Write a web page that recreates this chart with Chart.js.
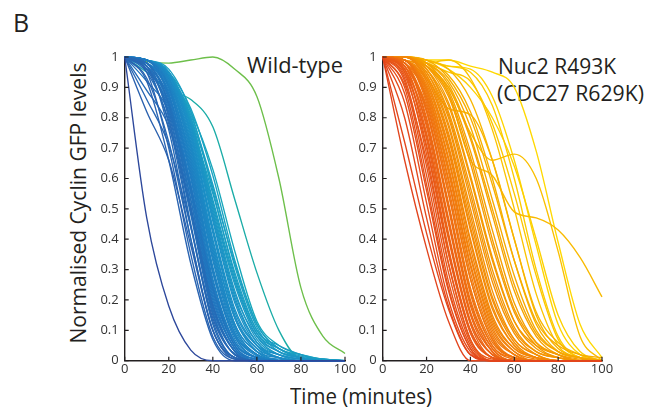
<!DOCTYPE html>
<html>
<head>
<meta charset="utf-8">
<script src="https://cdn.jsdelivr.net/npm/chart.js@4.4.1/dist/chart.umd.min.js"></script>
<style>
html,body{margin:0;padding:0;background:#fff;}
body{width:660px;height:416px;position:relative;overflow:hidden;font-family:"Open Sans",sans-serif;color:#231f20;}
.panel{position:absolute;}
.txt{position:absolute;white-space:nowrap;line-height:1;transform-origin:0 0;}
</style>
</head>
<body>
<div class="txt" style="left:13px;top:10px;font-size:25px;">B</div>
<div class="txt fit" data-w="96" style="left:247px;top:53px;font-size:22px;">Wild-type</div>
<div class="txt fit" data-w="118" style="left:498px;top:54px;font-size:22px;">Nuc2 R493K</div>
<div class="txt fit" data-w="147" style="left:497px;top:81px;font-size:22px;">(CDC27 R629K)</div>
<div class="txt fit" data-w="142" style="left:290px;top:384px;font-size:22px;">Time (minutes)</div>
<div id="ytitle" class="txt" style="font-size:22px;">Normalised Cyclin GFP levels</div>

<div class="panel" style="left:60px;top:40px;width:300px;height:345px;"><canvas id="wt"></canvas></div>
<div class="panel" style="left:350px;top:40px;width:270px;height:345px;"><canvas id="mut"></canvas></div>

<script>
const timePoints = [0, 10, 20, 30, 40, 50, 60, 70, 80, 90, 100];
const xTicks = [0, 20, 40, 60, 80, 100];
const yTicks = [0, 0.1, 0.2, 0.3, 0.4, 0.5, 0.6, 0.7, 0.8, 0.9, 1];
const yTickLabels = ["0", "0.1", "0.2", "0.3", "0.4", "0.5", "0.6", "0.7", "0.8", "0.9", "1"];

// Wild-type cells (ordered early -> late degradation)
const wildType = [
  [1,0.47,0.18,0.035,0,0,0,0,0,0,0],
  [1,0.82,0.66,0.38,0.10,0.005,0,0,0,0,0],
  [1,0.92,0.66,0.32,0.07,0,0,0,0,0,0],
  [1,0.95,0.70,0.35,0.08,0.005,0,0,0,0,0],
  [1,0.86,0.71,0.44,0.14,0.02,0,0,0,0,0],
  [1,0.93,0.72,0.40,0.10,0.01,0,0,0,0,0],
  [1,0.97,0.76,0.40,0.10,0.01,0,0,0,0,0],
  [1,0.96,0.78,0.44,0.13,0.01,0,0,0,0,0],
  [1,0.89,0.77,0.50,0.18,0.03,0,0,0,0,0],
  [1,0.98,0.80,0.45,0.12,0.01,0,0,0,0,0],
  [1,0.95,0.79,0.48,0.15,0.02,0,0,0,0,0],
  [1,0.97,0.81,0.49,0.16,0.02,0,0,0,0,0],
  [1,0.97,0.82,0.50,0.17,0.03,0,0,0,0,0],
  [1,0.98,0.84,0.51,0.16,0.02,0,0,0,0,0],
  [1,0.98,0.85,0.53,0.18,0.03,0,0,0,0,0],
  [1,0.92,0.82,0.57,0.24,0.05,0,0,0,0,0],
  [1,0.96,0.83,0.53,0.19,0.03,0,0,0,0,0],
  [1,0.98,0.86,0.55,0.20,0.04,0,0,0,0,0],
  [1,0.96,0.84,0.56,0.22,0.04,0,0,0,0,0],
  [1,0.99,0.87,0.56,0.21,0.04,0.005,0,0,0,0],
  [1,0.99,0.88,0.58,0.23,0.05,0.005,0,0,0,0],
  [1,0.97,0.85,0.58,0.24,0.05,0.005,0,0,0,0],
  [1,0.98,0.88,0.60,0.25,0.06,0.01,0,0,0,0],
  [1,0.99,0.90,0.61,0.26,0.06,0.01,0,0,0,0],
  [1,0.97,0.87,0.62,0.27,0.06,0.01,0,0,0,0],
  [1,0.98,0.89,0.63,0.29,0.07,0.01,0,0,0,0],
  [1,0.99,0.90,0.64,0.29,0.08,0.01,0,0,0,0],
  [1,0.99,0.91,0.65,0.30,0.08,0.01,0,0,0,0],
  [1,0.98,0.91,0.66,0.31,0.09,0.02,0,0,0,0],
  [1,0.98,0.90,0.67,0.33,0.09,0.015,0,0,0,0],
  [1,0.99,0.92,0.68,0.34,0.10,0.02,0,0,0,0],
  [1,0.99,0.92,0.69,0.35,0.11,0.02,0.005,0,0,0],
  [1,0.99,0.93,0.70,0.36,0.11,0.02,0,0,0,0],
  [1,0.99,0.92,0.71,0.37,0.12,0.03,0.01,0,0,0],
  [1,0.98,0.91,0.71,0.38,0.12,0.03,0,0,0,0],
  [1,0.99,0.93,0.72,0.39,0.14,0.04,0.01,0,0,0],
  [1,0.99,0.93,0.73,0.40,0.14,0.03,0,0,0,0],
  [1,0.99,0.94,0.74,0.42,0.15,0.04,0,0,0,0],
  [1,0.99,0.94,0.75,0.43,0.16,0.05,0.02,0.005,0,0],
  [1,0.99,0.93,0.75,0.44,0.17,0.05,0.01,0,0,0],
  [1,0.99,0.94,0.76,0.46,0.19,0.05,0.01,0,0,0],
  [1,0.99,0.94,0.77,0.47,0.20,0.06,0.02,0.005,0,0],
  [1,0.99,0.95,0.77,0.48,0.21,0.06,0.01,0,0,0],
  [1,0.99,0.95,0.78,0.49,0.22,0.08,0.03,0.01,0,0],
  [1,0.99,0.94,0.78,0.50,0.23,0.07,0.02,0,0,0],
  [1,0.99,0.95,0.79,0.51,0.25,0.08,0.02,0.005,0,0],
  [1,0.99,0.95,0.80,0.52,0.26,0.09,0.04,0.01,0,0],
  [1,0.99,0.94,0.79,0.53,0.27,0.09,0.03,0.01,0.005,0],
  [1,0.99,0.93,0.78,0.55,0.29,0.10,0.05,0.02,0,0],
  [1,0.99,0.96,0.82,0.56,0.28,0.10,0.04,0.015,0.005,0],
  [1,0.99,0.94,0.81,0.58,0.31,0.11,0.03,0.01,0,0],
  [1,0.99,0.94,0.80,0.57,0.32,0.12,0.04,0.02,0.005,0],
  [1,0.99,0.95,0.83,0.61,0.33,0.12,0.04,0.01,0.005,0],
  [1,0.99,0.94,0.82,0.63,0.36,0.13,0.05,0.02,0.005,0],
  [1,0.95,0.89,0.86,0.77,0.53,0.29,0.10,0.005,0,0],
  [1,0.985,0.98,0.99,1.0,0.96,0.87,0.60,0.24,0.08,0.024]
];

// Nuc2 R493K (CDC27 R629K) cells (ordered early -> late degradation)
const nuc2Mutant = [
  [1,0.66,0.37,0.13,0,0,0,0,0,0,0],
  [1,0.72,0.42,0.17,0.02,0,0,0,0,0,0],
  [1,0.80,0.47,0.18,0.02,0,0,0,0,0,0],
  [1,0.85,0.52,0.20,0.03,0,0,0,0,0,0],
  [1,0.88,0.56,0.23,0.04,0,0,0,0,0,0],
  [1,0.90,0.58,0.24,0.04,0,0,0,0,0,0],
  [1,0.92,0.61,0.26,0.05,0,0,0,0,0,0],
  [1,0.93,0.64,0.29,0.06,0,0,0,0,0,0],
  [1,0.91,0.66,0.32,0.07,0,0,0,0,0,0],
  [1,0.95,0.68,0.32,0.07,0.005,0,0,0,0,0],
  [1,0.94,0.70,0.35,0.09,0.01,0,0,0,0,0],
  [1,0.96,0.71,0.36,0.10,0.01,0,0,0,0,0],
  [1,0.96,0.73,0.37,0.10,0.01,0,0,0,0,0],
  [1,0.95,0.74,0.40,0.12,0.01,0,0,0,0,0],
  [1,0.97,0.75,0.41,0.13,0.02,0,0,0,0,0],
  [1,0.97,0.77,0.42,0.13,0.02,0,0,0,0,0],
  [1,0.96,0.78,0.45,0.15,0.02,0,0,0,0,0],
  [1,0.98,0.79,0.46,0.16,0.03,0,0,0,0,0],
  [1,0.98,0.80,0.47,0.16,0.03,0,0,0,0,0],
  [1,0.97,0.82,0.50,0.18,0.03,0,0,0,0,0],
  [1,0.98,0.82,0.51,0.19,0.04,0,0,0,0,0],
  [1,0.98,0.83,0.52,0.20,0.04,0,0,0,0,0],
  [1,0.97,0.84,0.55,0.22,0.05,0.005,0,0,0,0],
  [1,0.99,0.85,0.55,0.23,0.05,0.01,0,0,0,0],
  [1,0.99,0.86,0.57,0.24,0.06,0.01,0,0,0,0],
  [1,0.99,0.87,0.59,0.27,0.07,0.01,0,0,0,0],
  [1,0.98,0.87,0.60,0.27,0.07,0.01,0,0,0,0],
  [1,0.99,0.88,0.62,0.29,0.08,0.01,0,0,0,0],
  [1,0.99,0.89,0.63,0.31,0.09,0.02,0,0,0,0],
  [1,0.98,0.89,0.64,0.32,0.10,0.02,0,0,0,0],
  [1,0.99,0.90,0.66,0.34,0.11,0.02,0,0,0,0],
  [1,0.99,0.90,0.67,0.35,0.12,0.03,0.005,0,0,0],
  [1,0.99,0.91,0.69,0.37,0.13,0.03,0,0,0,0],
  [1,1,0.92,0.70,0.39,0.14,0.04,0.01,0,0,0],
  [1,0.99,0.92,0.71,0.40,0.15,0.04,0.01,0,0,0],
  [1,0.99,0.93,0.73,0.43,0.17,0.05,0.01,0,0,0],
  [1,1,0.93,0.74,0.44,0.18,0.05,0.01,0,0,0],
  [1,1,0.94,0.75,0.46,0.20,0.06,0.01,0,0,0],
  [1,1,0.94,0.77,0.48,0.21,0.07,0.02,0,0,0],
  [1,0.99,0.95,0.78,0.50,0.23,0.07,0.02,0,0,0],
  [1,1,0.95,0.80,0.53,0.26,0.09,0.02,0,0,0],
  [1,1,0.96,0.81,0.55,0.28,0.10,0.03,0.01,0,0],
  [1,0.99,0.96,0.82,0.57,0.30,0.11,0.03,0.01,0,0],
  [1,1,0.96,0.84,0.60,0.33,0.13,0.05,0.02,0,0],
  [1,1,0.97,0.85,0.61,0.34,0.13,0.04,0.01,0,0],
  [1,1,0.97,0.87,0.65,0.38,0.16,0.05,0.01,0,0],
  [1,1,0.97,0.88,0.67,0.40,0.17,0.06,0.02,0.005,0],
  [1,1,0.98,0.89,0.69,0.43,0.19,0.06,0.02,0,0],
  [1,1,0.97,0.90,0.73,0.48,0.23,0.08,0.02,0,0],
  [1,1,0.98,0.91,0.74,0.50,0.25,0.09,0.03,0.01,0],
  [1,1,0.98,0.92,0.77,0.53,0.28,0.10,0.03,0.01,0],
  [1,1,0.99,0.93,0.80,0.58,0.33,0.13,0.05,0.02,0.01],
  [1,1,0.98,0.94,0.82,0.60,0.33,0.12,0.03,0.01,0],
  [1,0.99,0.93,0.83,0.81,0.66,0.40,0.15,0.04,0.01,0],
  [1,1,0.99,0.96,0.86,0.66,0.40,0.16,0.06,0.02,0],
  [1,1,0.98,0.88,0.66,0.61,0.49,0.47,0.43,0.34,0.21],
  [1,1,0.97,0.90,0.75,0.66,0.68,0.60,0.36,0.08,0],
  [1,1,0.98,0.99,0.93,0.76,0.50,0.22,0.05,0.01,0],
  [1,1,0.98,0.95,0.92,0.78,0.55,0.28,0.07,0.01,0],
  [1,1,0.99,0.97,0.95,0.84,0.60,0.30,0.08,0.01,0],
  [1,1,0.99,0.96,0.90,0.80,0.64,0.40,0.15,0.03,0],
  [1,1,0.99,0.97,0.96,0.87,0.66,0.38,0.12,0.02,0],
  [1,1,0.99,0.99,0.97,0.95,0.90,0.69,0.39,0.12,0.01]
];

// ---- styling ----
const wtStops = [[0,'#2c479b'],[0.02,'#2962b0'],[0.35,'#1f78c0'],[0.7,'#1b8fc6'],[0.95,'#1aa2c2'],[0.98,'#12aab0'],[1,'#6dbf4a']];
const mutStops = [[0,'#e2441c'],[0.25,'#ec6514'],[0.5,'#f2820a'],[0.75,'#f59e00'],[0.87,'#f8b600'],[1,'#ffd800']];

function hexToRgb(h){return [parseInt(h.slice(1,3),16),parseInt(h.slice(3,5),16),parseInt(h.slice(5,7),16)];}
function colourAt(stops, f){
  for(let i=1;i<stops.length;i++){
    if(f<=stops[i][0]){
      const a=stops[i-1], b=stops[i];
      const u=(f-a[0])/((b[0]-a[0])||1);
      const ca=hexToRgb(a[1]), cb=hexToRgb(b[1]);
      return 'rgb('+ca.map((c,k)=>Math.round(c+(cb[k]-c)*u)).join(',')+')';
    }
  }
  return stops[stops.length-1][1];
}

const innerTicks = {
  id:'innerTicks',
  afterDatasetsDraw(chart){
    const {ctx, chartArea:a, scales:{x,y}} = chart;
    ctx.save();
    ctx.strokeStyle='#231f20'; ctx.lineWidth=1.2;
    ctx.beginPath();
    x.ticks.forEach(t=>{const p=x.getPixelForValue(t.value); ctx.moveTo(p,a.bottom); ctx.lineTo(p,a.bottom-4);});
    y.ticks.forEach(t=>{const p=y.getPixelForValue(t.value); ctx.moveTo(a.left,p); ctx.lineTo(a.left+4,p);});
    ctx.stroke();
    ctx.restore();
  }
};

const tickFont = {family:'"Open Sans", sans-serif', size:13};

function makePanel(id, curves, stops, yWidth, padRight){
  const n = curves.length;
  const datasets = curves.map((vals,i)=>({
    data: vals.map((v,j)=>({x:timePoints[j], y:v})),
    borderColor: colourAt(stops, i/(n-1)),
    borderWidth: 1.35,
    pointRadius: 0,
    fill: false,
    cubicInterpolationMode: 'monotone',
    clip: false
  }));
  new Chart(document.getElementById(id), {
    type:'line',
    data:{datasets},
    options:{
      responsive:true, maintainAspectRatio:false, animation:false,
      layout:{padding:{top:17, right:padRight, left:0, bottom:0}},
      plugins:{legend:{display:false}, tooltip:{enabled:false}},
      scales:{
        x:{type:'linear', min:0, max:100,
           afterBuildTicks:s=>{s.ticks = xTicks.map(v=>({value:v}));},
           afterFit:s=>{s.height = 24.3;},
           grid:{display:true, drawOnChartArea:false, drawTicks:false},
           border:{display:true, color:'#231f20', width:1.4},
           ticks:{font:tickFont, color:'#333', padding:1, maxRotation:0, autoSkip:false,
                  callback:v=>String(v)}},
        y:{type:'linear', min:0, max:1,
           afterBuildTicks:s=>{s.ticks = yTicks.map(v=>({value:v}));},
           afterFit:s=>{s.width = yWidth;},
           grid:{display:true, drawOnChartArea:false, drawTicks:false},
           border:{display:true, color:'#231f20', width:1.4},
           ticks:{font:tickFont, color:'#333', padding:6, autoSkip:false,
                  callback:(v)=>{const k=yTicks.findIndex(t=>Math.abs(t-v)<1e-9); return k>=0?yTickLabels[k]:'';}}}
      }
    },
    plugins:[innerTicks]
  });
}

makePanel('wt', wildType, wtStops, 64.7, 15);
makePanel('mut', nuc2Mutant, mutStops, 32.7, 18);

// fit text widths
document.querySelectorAll('.fit').forEach(el=>{
  const w = el.getBoundingClientRect().width;
  const target = +el.dataset.w;
  el.style.transform = 'scaleX('+(target/w)+')';
});
const yt = document.getElementById('ytitle');
const yw = yt.getBoundingClientRect().width;
const yh = yt.getBoundingClientRect().height;
const sc = 281/yw;
yt.style.left = (77 - yw/2)+'px';
yt.style.top = (202.5 - yh/2)+'px';
yt.style.transformOrigin = '50% 50%';
yt.style.transform = 'rotate(-90deg) scaleX('+sc+')';
</script>
</body>
</html>
